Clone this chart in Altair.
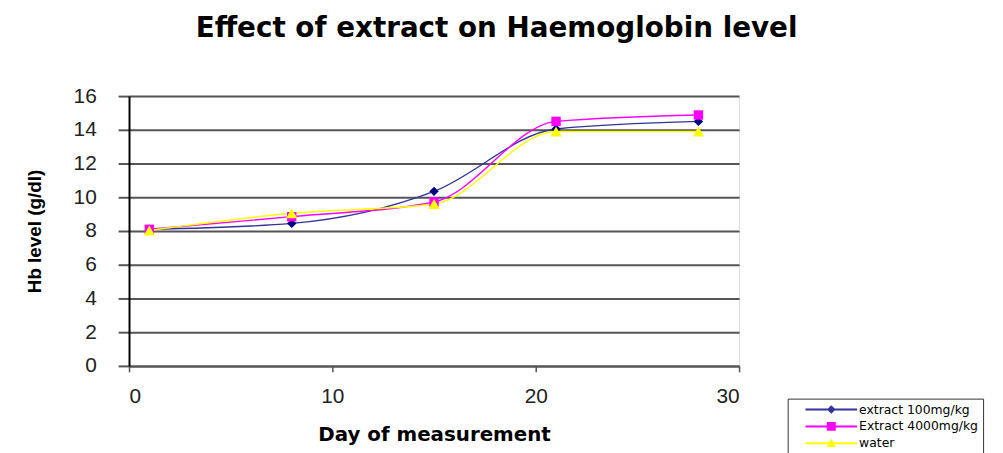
import altair as alt
import pandas as pd

days = [1, 8, 15, 21, 28]
series_names = ["extract 100mg/kg", "Extract 4000mg/kg", "water"]
extract_100 = [8.1, 8.45, 10.35, 14.05, 14.5]
extract_4000 = [8.1, 8.85, 9.72, 14.5, 14.88]
water = [8.03, 9.05, 9.6, 13.9, 13.9]
y_ticks = [0, 2, 4, 6, 8, 10, 12, 14, 16]
x_ticks = [0, 10, 20, 30]

line_colors = ["#33339c", "#ff00ff", "#ffff00"]
marker_colors = ["#000080", "#ff00ff", "#ffff00"]
marker_shapes = ["diamond", "square", "triangle-up"]
marker_sizes = [90, 90, 130]

# legend symbols: a line segment with the marker in the middle
legend_paths = [
    "M1,-0.14H8.43V0.14H1Z M4.71,-0.62L5.33,0L4.71,0.62L4.09,0Z",
    "M1,-0.14H8.43V0.14H1Z M4.07,-0.64H5.35V0.64H4.07Z",
    "M1,-0.14H8.43V0.14H1Z M4.71,-0.66L5.38,0.52L4.04,0.52Z",
]

rows = []
for name, vals in zip(series_names, [extract_100, extract_4000, water]):
    for d, v in zip(days, vals):
        rows.append({"day": d, "hb": v, "series": name})
df = pd.DataFrame(rows)

x_enc = alt.X(
    "day:Q",
    scale=alt.Scale(domain=[0, 30], nice=False),
    axis=alt.Axis(
        values=x_ticks, title="Day of measurement", grid=False,
        domain=True, domainColor="#555555", domainWidth=2,
        ticks=True, tickColor="#555555", tickWidth=1.5, tickSize=6,
        labelFont="Liberation Sans", labelFontSize=21, labelColor="#222222",
        labelPadding=14, labelOverlap=False,
        titleFont="DejaVu Sans", titleFontSize=20, titleFontWeight="bold",
        titleColor="#000000", titlePadding=18,
    ),
)
y_enc = alt.Y(
    "hb:Q",
    scale=alt.Scale(domain=[0, 16], nice=False),
    axis=alt.Axis(
        values=y_ticks, title="Hb level (g/dl)",
        grid=True, gridColor="#555555", gridWidth=2,
        domain=True, domainColor="#000000", domainWidth=2,
        ticks=True, tickColor="#555555", tickWidth=2, tickSize=11,
        labelFont="Liberation Sans", labelFontSize=21, labelColor="#222222",
        labelPadding=22, labelOverlap=False,
        titleFont="Liberation Sans", titleFontSize=19, titleFontWeight="bold",
        titleColor="#000000", titlePadding=29,
    ),
)

layers = []
for name, lc in zip(series_names, line_colors):
    layers.append(
        alt.Chart(df).transform_filter(alt.datum.series == name)
        .mark_line(interpolate="monotone", strokeWidth=1.4, color=lc)
        .encode(x=x_enc, y=y_enc)
    )

for name, mc, ms, sz in zip(series_names, marker_colors, marker_shapes, marker_sizes):
    layers.append(
        alt.Chart(df).transform_filter(alt.datum.series == name)
        .mark_point(filled=True, shape=ms, size=sz, color=mc, opacity=1)
        .encode(x=x_enc, y=y_enc)
    )

legend_props = dict(
    title=None, orient="none", legendX=664, legendY=305,
    symbolSize=196, labelOffset=54, rowPadding=3,
    labelFont="DejaVu Sans", labelFontSize=12.5, labelColor="#000000",
    strokeColor="#333333", fillColor="#ffffff", padding=4,
    symbolStrokeWidth=0, labelLimit=400, symbolOpacity=1,
)

legend_layer = alt.Chart(df).mark_point(filled=True, opacity=0).encode(
    x=x_enc, y=y_enc,
    color=alt.Color(
        "series:N",
        scale=alt.Scale(domain=series_names, range=line_colors),
        legend=alt.Legend(**legend_props),
    ),
    shape=alt.Shape(
        "series:N",
        scale=alt.Scale(domain=series_names, range=legend_paths),
        legend=alt.Legend(**legend_props),
    ),
)
layers.append(legend_layer)

chart = alt.layer(*layers).properties(
    width=615,
    height=272,
    autosize=alt.AutoSizeParams(type="none"),
    padding={"left": 122, "top": 87, "right": 258, "bottom": 86},
    title=alt.TitleParams(
        "Effect of extract on Haemoglobin level",
        font="DejaVu Sans", fontSize=28, fontWeight="bold", color="#000000",
        anchor="middle", baseline="alphabetic", offset=21, dx=63,
    ),
).configure_view(stroke=None).configure(background="#ffffff")

chart.save("out.html", embed_options={"renderer": "svg", "actions": False})
